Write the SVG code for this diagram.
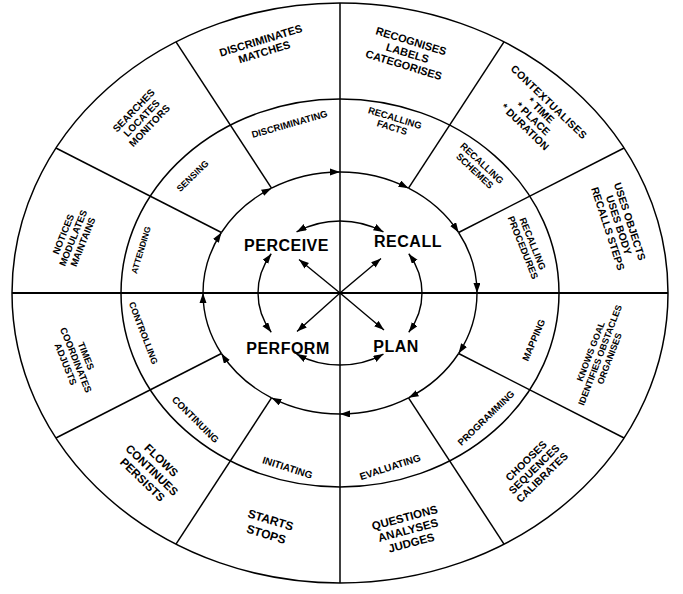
<svg xmlns="http://www.w3.org/2000/svg" width="683" height="594" viewBox="0 0 683 594">
<style>
.ln{fill:none;stroke:#000;stroke-width:1.5}
.ax{fill:none;stroke:#000;stroke-width:2}
.ar{fill:none;stroke:#000;stroke-width:1.4;marker-end:url(#ah)}
.dar{fill:none;stroke:#000;stroke-width:1.4;marker-start:url(#ah);marker-end:url(#ah)}
text{font-family:"Liberation Sans",Arial,sans-serif;font-weight:bold;fill:#000;text-anchor:middle}
.big{font-size:16px;letter-spacing:0.5px}
</style>
<defs>
<marker id="ah" markerUnits="userSpaceOnUse" markerWidth="12" markerHeight="8" refX="10" refY="3.5" orient="auto-start-reverse"><path d="M0,0 L10,3.5 L0,7 z" fill="#000"/></marker>
</defs>
<rect width="683" height="594" fill="#fff"/>
<g id="rings">
<ellipse class="ln" cx="340" cy="293" rx="328" ry="290"/>
<ellipse class="ln" cx="340" cy="293" rx="219" ry="194"/>
<line class="ax" x1="12" y1="293" x2="668" y2="293"/>
<line class="ln" x1="340" y1="3" x2="340" y2="583"/>
</g>
<g id="spokes">
<line class="ln" x1="408.5" y1="188.2" x2="504" y2="41.9"/>
<line class="ln" x1="458.6" y1="232.5" x2="624.1" y2="148"/>
<line class="ln" x1="458.6" y1="353.5" x2="624.1" y2="438"/>
<line class="ln" x1="408.5" y1="397.8" x2="504" y2="544.1"/>
<line class="ln" x1="271.5" y1="397.8" x2="176" y2="544.1"/>
<line class="ln" x1="221.4" y1="353.5" x2="55.9" y2="438"/>
<line class="ln" x1="221.4" y1="232.5" x2="55.9" y2="148"/>
<line class="ln" x1="271.5" y1="188.2" x2="176" y2="41.9"/>
</g>
<g id="connectors">
<path class="ar" d="M271.5,188.2 A137,121 0 0 1 340,172"/>
<path class="ar" d="M340,172 A137,121 0 0 1 408.5,188.2"/>
<path class="ar" d="M408.5,188.2 A137,121 0 0 1 458.6,232.5"/>
<path class="ar" d="M458.6,232.5 A137,121 0 0 1 477,293"/>
<path class="ar" d="M477,293 A137,121 0 0 1 458.6,353.5"/>
<path class="ar" d="M458.6,353.5 A137,121 0 0 1 408.5,397.8"/>
<path class="ar" d="M408.5,397.8 A137,121 0 0 1 340,414"/>
<path class="ar" d="M340,414 A137,121 0 0 1 271.5,397.8"/>
<path class="ar" d="M271.5,397.8 A137,121 0 0 1 221.4,353.5"/>
<path class="ar" d="M221.4,353.5 A137,121 0 0 1 203,293"/>
<path class="ar" d="M203,293 A137,121 0 0 1 221.4,232.5"/>
<path class="ar" d="M221.4,232.5 A137,121 0 0 1 271.5,188.2"/>
<path class="dar" d="M296.55,231.94 A82,72 0 0 1 383.45,231.94"/>
<path class="dar" d="M408.77,253.79 A82,72 0 0 1 408.77,332.21"/>
<path class="dar" d="M383.45,354.06 A82,72 0 0 1 296.55,354.06"/>
<path class="dar" d="M271.23,332.21 A82,72 0 0 1 271.23,253.79"/>
<line class="ar" x1="340" y1="293" x2="299" y2="259.5"/>
<line class="ar" x1="340" y1="293" x2="381" y2="258.5"/>
<line class="ar" x1="340" y1="293" x2="297" y2="331.5"/>
<line class="ar" x1="340" y1="293" x2="384" y2="330"/>
</g>
<g id="perceive"><text class="big" x="286.5" y="251">PERCEIVE</text></g>
<g id="recall"><text class="big" x="408" y="247">RECALL</text></g>
<g id="perform"><text class="big" x="288" y="354">PERFORM</text></g>
<g id="plan"><text class="big" x="396" y="352">PLAN</text></g>

<g id="recalling-facts" transform="translate(393.5,122.5) rotate(17)" font-size="9.5"><text y="-1.6">RECALLING</text><text y="8.4">FACTS</text></g>
<g id="recalling-schemes" transform="translate(478.5,167) rotate(43)" font-size="9.5"><text y="-1.8">RECALLING</text><text y="8.7">SCHEMES</text></g>
<g id="recalling-procedures" transform="translate(528,245.5) rotate(68)" font-size="9.5"><text y="-1.8">RECALLING</text><text y="8.7">PROCEDURES</text></g>
<g id="mapping" transform="translate(533.5,340) rotate(-67)" font-size="9.5"><text y="3.4">MAPPING</text></g>
<g id="programming" transform="translate(486,418) rotate(-44)" font-size="9.5"><text y="3.4">PROGRAMMING</text></g>
<g id="evaluating" transform="translate(390,467) rotate(-18)" font-size="10"><text y="3.6">EVALUATING</text></g>
<g id="initiating" transform="translate(287.5,467.5) rotate(18)" font-size="10"><text y="3.6">INITIATING</text></g>
<g id="continuing" transform="translate(195.5,419.5) rotate(45)" font-size="9.7"><text y="3.5">CONTINUING</text></g>
<g id="controlling" transform="translate(143.5,333) rotate(69)" font-size="9"><text y="3.2">CONTROLLING</text></g>
<g id="attending" transform="translate(141,250) rotate(-73)" font-size="8.5"><text y="3">ATTENDING</text></g>
<g id="sensing" transform="translate(192.5,176) rotate(-44)" font-size="9"><text y="3.2">SENSING</text></g>
<g id="discriminating" transform="translate(289.5,124) rotate(-16)" font-size="9.5"><text y="3.4">DISCRIMINATING</text></g>

<g id="recognises" transform="translate(407.5,53) rotate(17)" font-size="11"><text y="-8.6">RECOGNISES</text><text y="3.9">LABELS</text><text y="16.4">CATEGORISES</text></g>
<g id="contextualises" transform="translate(537,114.4) rotate(44)" font-size="10.5"><text y="-13.5" letter-spacing="0.4">CONTEXTUALISES</text><text y="-2">* TIME</text><text y="9.5">* PLACE</text><text y="21">* DURATION</text></g>
<g id="uses-objects" transform="translate(619,225) rotate(72)" font-size="10.5"><text y="-7.7">USES OBJECTS</text><text y="3.8">USES BODY</text><text y="15.3">RECALLS STEPS</text></g>
<g id="knows-goal" transform="translate(600,355) rotate(-69)" font-size="9"><text y="-6.8">KNOWS GOAL</text><text y="3.2">IDENTIFIES OBSTACLES</text><text y="13.2">ORGANISES</text></g>
<g id="chooses" transform="translate(534,469) rotate(-44)" font-size="10.5"><text y="-7.7">CHOOSES</text><text y="3.8">SEQUENCES</text><text y="15.3">CALIBRATES</text></g>
<g id="questions" transform="translate(408,530) rotate(-15)" font-size="11.5"><text y="-8.9">QUESTIONS</text><text y="4.1">ANALYSES</text><text y="17.1">JUDGES</text></g>
<g id="starts" transform="translate(268.5,527) rotate(17)" font-size="12"><text y="-3.2">STARTS</text><text y="11.8">STOPS</text></g>
<g id="flows" transform="translate(152,470) rotate(44)" font-size="11.5"><text y="-9.4">FLOWS</text><text y="4.1">CONTINUES</text><text y="17.6">PERSISTS</text></g>
<g id="times" transform="translate(76,360) rotate(68)" font-size="9.5"><text y="-7.6">TIMES</text><text y="3.4">COORDINATES</text><text y="14.4">ADJUSTS</text></g>
<g id="notices" transform="translate(73,238) rotate(-68)" font-size="9.5"><text y="-7.1">NOTICES</text><text y="3.4">MODULATES</text><text y="13.9">MAINTAINS</text></g>
<g id="searches" transform="translate(141.5,118) rotate(-46)" font-size="10"><text y="-7.4">SEARCHES</text><text y="3.6">LOCATES</text><text y="14.6">MONITORS</text></g>
<g id="discriminates" transform="translate(262.5,46) rotate(-17)" font-size="11"><text y="-2">DISCRIMINATES</text><text y="10">MATCHES</text></g>
</svg>
